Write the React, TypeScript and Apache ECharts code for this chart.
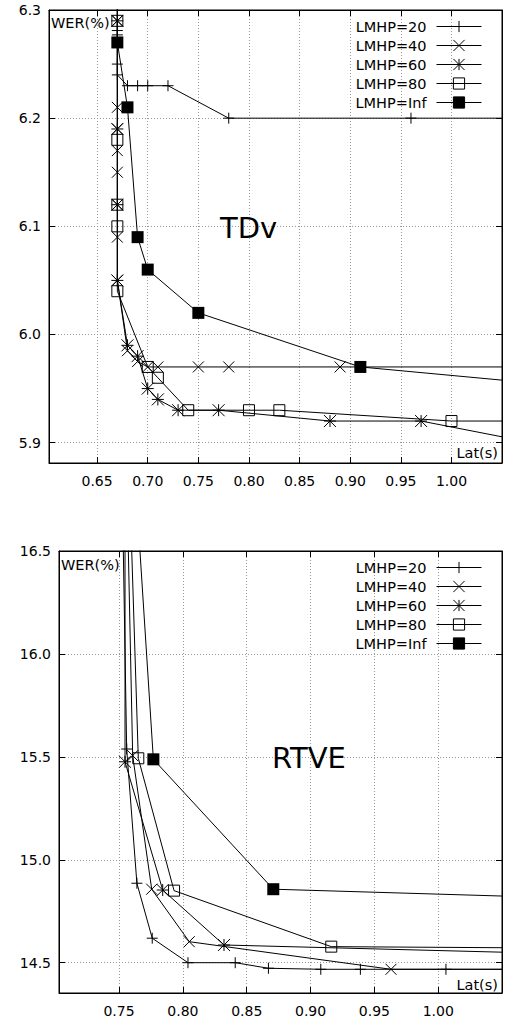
import React, { useEffect, useRef } from 'react';
import * as echarts from 'echarts';

const FONT = 'DejaVu Sans';

const seriesNames = ['LMHP=20', 'LMHP=40', 'LMHP=60', 'LMHP=80', 'LMHP=Inf'];

// ---------------- TDv (top) ----------------
const tdvLat20 = [0.67, 0.67, 0.67, 0.67, 0.67, 0.68, 0.69, 0.70, 0.72, 0.78, 0.96, 1.20];
const tdvWer20 = [6.40, 6.281, 6.277, 6.25, 6.24, 6.23, 6.23, 6.23, 6.23, 6.20, 6.20, 6.20];
const tdvLat40 = [0.67, 0.67, 0.67, 0.67, 0.67, 0.67, 0.67, 0.67, 0.67, 0.68, 0.69, 0.70, 0.71, 0.75, 0.78, 0.89, 1.20];
const tdvWer40 = [6.40, 6.29, 6.21, 6.19, 6.17, 6.15, 6.12, 6.09, 6.05, 5.985, 5.975, 5.97, 5.97, 5.97, 5.97, 5.97, 5.97];
const tdvLat60 = [0.67, 0.67, 0.67, 0.67, 0.67, 0.68, 0.69, 0.70, 0.71, 0.73, 0.77, 0.88, 0.97, 1.20];
const tdvWer60 = [6.40, 6.29, 6.19, 6.12, 6.05, 5.99, 5.98, 5.95, 5.94, 5.93, 5.93, 5.92, 5.92, 5.878];
const tdvLat80 = [0.67, 0.67, 0.67, 0.67, 0.67, 0.67, 0.70, 0.71, 0.74, 0.80, 0.83, 1.00, 1.20];
const tdvWer80 = [6.40, 6.29, 6.18, 6.12, 6.10, 6.04, 5.97, 5.96, 5.93, 5.93, 5.93, 5.92, 5.92];
const tdvLatInf = [0.67, 0.68, 0.69, 0.70, 0.75, 0.91, 1.30];
const tdvWerInf = [6.27, 6.21, 6.09, 6.06, 6.02, 5.97, 5.936];

// ---------------- RTVE (bottom) ----------------
const rtveLat20 = [0.752, 0.756, 0.764, 0.776, 0.804, 0.841, 0.867, 0.908, 0.939, 1.006, 1.20];
const rtveWer20 = [17.0, 15.538, 14.886, 14.619, 14.50, 14.50, 14.473, 14.468, 14.468, 14.468, 14.468];
const rtveLat40 = [0.7556, 0.7607, 0.7756, 0.805, 0.963, 1.20];
const rtveWer40 = [17.0, 15.506, 14.857, 14.602, 14.468, 14.468];
const rtveLat60 = [0.7547, 0.7547, 0.7842, 0.8322, 1.20];
const rtveWer60 = [17.0, 15.476, 14.853, 14.586, 14.527];
const rtveLat80 = [0.7574, 0.7651, 0.7931, 0.9162, 1.20];
const rtveWer80 = [17.0, 15.493, 14.850, 14.578, 14.567];
const rtveLatInf = [0.7612, 0.7769, 0.8708, 1.20];
const rtveWerInf = [17.0, 15.488, 14.857, 14.796];

// axis ranges
const tdvXRange = [0.6025, 1.0499];
const tdvYRange = [5.8812, 6.3];
const rtveXRange = [0.703, 1.0499];
const rtveYRange = [14.3528, 16.5];

const SYM_PLUS = 'path://M5,0L5,10M0,5L10,5';
const SYM_X = 'path://M0,0L10,10M10,0L0,10';
const SYM_STAR = 'path://M0,0L10,10M10,0L0,10M5,0L5,10M0,5L10,5';
const SYM_BOX = 'path://M0,0L10,0L10,10L0,10Z';

const hollow = { color: 'rgba(0,0,0,0)', borderColor: '#000', borderWidth: 1 };
const markerStyles = [
  { symbol: SYM_PLUS, size: 11, item: hollow },
  { symbol: SYM_X, size: 11, item: hollow },
  { symbol: SYM_STAR, size: 12, item: hollow },
  { symbol: SYM_BOX, size: 11, item: hollow },
  { symbol: 'rect', size: 12, item: { color: '#000', borderColor: '#000', borderWidth: 0 } },
];

function mkSeries(idx: number, xs: number[], ys: number[], axisIdx: number) {
  const st = markerStyles[idx];
  return {
    type: 'line',
    name: seriesNames[idx],
    xAxisIndex: axisIdx,
    yAxisIndex: axisIdx,
    data: xs.map((x, i) => [x, ys[i]]),
    symbol: st.symbol,
    symbolSize: st.size,
    showSymbol: true,
    itemStyle: st.item,
    lineStyle: { color: '#000', width: 1 },
    clip: true,
    silent: true,
    emphasis: { disabled: true },
    z: 2 + idx,
  };
}

const labelText = { fontFamily: FONT, fontSize: 14, color: '#000' };
const gridLine = { show: true, lineStyle: { color: '#999', type: [1, 2], width: 1 } };
const tick = { show: true, inside: true, length: 6, lineStyle: { color: '#000', width: 1 } };
const axLine = { show: true, onZero: false, lineStyle: { color: '#000', width: 1 } };

// only label the round tick values (step = 1/mult), up to a limit
function roundLabel(mult: number, digits: number, maxVal: number) {
  return (v: number) =>
    Math.abs(v * mult - Math.round(v * mult)) < 1e-6 && v <= maxVal + 1e-9 ? v.toFixed(digits) : '';
}

function xAxes(gridIndex: number, range: number[], split: number) {
  return [
    {
      type: 'value', gridIndex, position: 'bottom', min: range[0], max: range[1], splitNumber: split,
      axisLine: axLine, axisTick: tick, splitLine: gridLine,
      axisLabel: { ...labelText, margin: 11, formatter: roundLabel(20, 2, 1.0) },
    },
    {
      type: 'value', gridIndex, position: 'top', min: range[0], max: range[1], splitNumber: split,
      axisLine: axLine, axisTick: tick, splitLine: { show: false }, axisLabel: { show: false },
    },
  ];
}

function yAxes(gridIndex: number, range: number[], split: number, mult: number) {
  return [
    {
      type: 'value', gridIndex, position: 'left', min: range[0], max: range[1], splitNumber: split,
      axisLine: axLine, axisTick: tick, splitLine: gridLine,
      axisLabel: { ...labelText, margin: 8, showMaxLabel: true, formatter: roundLabel(mult, 1, 100) },
    },
    {
      type: 'value', gridIndex, position: 'right', min: range[0], max: range[1], splitNumber: split,
      axisLine: axLine, axisTick: tick, splitLine: { show: false }, axisLabel: { show: false },
    },
  ];
}

function legendAt(top: number) {
  return {
    data: seriesNames,
    orient: 'vertical',
    right: 24,
    top,
    align: 'right',
    itemWidth: 45,
    itemHeight: 14,
    itemGap: 4,
    padding: 0,
    selectedMode: false,
    textStyle: { fontFamily: FONT, fontSize: 14.5, color: '#000', padding: [0, 5, 0, 0] },
    itemStyle: { borderWidth: 1 },
    lineStyle: { width: 1 },
  };
}

function txt(left: number, top: number, text: string, size: number, align: string) {
  return {
    type: 'text',
    x: left,
    y: top,
    silent: true,
    z: 100,
    style: { text, fontFamily: FONT, fontSize: size, fill: '#000', textAlign: align, textVerticalAlign: 'middle' },
  };
}

export default function App() {
  const ref = useRef<HTMLDivElement>(null);
  useEffect(() => {
    if (!ref.current) return;
    const chart = echarts.init(ref.current, null, { renderer: 'svg' });
    const option: any = {
      animation: false,
      backgroundColor: '#fff',
      grid: [
        { left: 49, top: 10, width: 453, height: 453, show: true, borderColor: '#000', borderWidth: 1, backgroundColor: 'transparent', outerBoundsMode: 'none' },
        { left: 59, top: 551, width: 443, height: 442, show: true, borderColor: '#000', borderWidth: 1, backgroundColor: 'transparent', outerBoundsMode: 'none' },
      ],
      xAxis: [...xAxes(0, tdvXRange, 9), ...xAxes(1, rtveXRange, 7)],
      yAxis: [...yAxes(0, tdvYRange, 5, 10), ...yAxes(1, rtveYRange, 5, 2)],
      legend: [legendAt(19), legendAt(560)],
      series: [
        mkSeries(0, tdvLat20, tdvWer20, 0),
        mkSeries(1, tdvLat40, tdvWer40, 0),
        mkSeries(2, tdvLat60, tdvWer60, 0),
        mkSeries(3, tdvLat80, tdvWer80, 0),
        mkSeries(4, tdvLatInf, tdvWerInf, 0),
        mkSeries(0, rtveLat20, rtveWer20, 2),
        mkSeries(1, rtveLat40, rtveWer40, 2),
        mkSeries(2, rtveLat60, rtveWer60, 2),
        mkSeries(3, rtveLat80, rtveWer80, 2),
        mkSeries(4, rtveLatInf, rtveWerInf, 2),
      ],
      graphic: [
        txt(51, 23, 'WER(%)', 14.5, 'left'),
        txt(498, 453, 'Lat(s)', 14.5, 'right'),
        txt(220, 228, 'TDv', 29, 'left'),
        txt(61, 565, 'WER(%)', 14.5, 'left'),
        txt(498, 985, 'Lat(s)', 14.5, 'right'),
        txt(272, 758, 'RTVE', 29, 'left'),
      ],
    };
    chart.setOption(option);
    return () => chart.dispose();
  }, []);
  return <div ref={ref} style={{ position: 'absolute', left: 0, top: 0, width: 506, height: 1021 }} />;
}
